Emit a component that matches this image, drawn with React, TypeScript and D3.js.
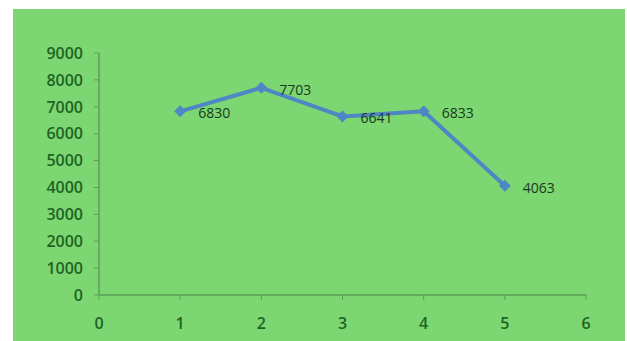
import React from "react";
import * as d3 from "d3";

// Series values
const xValues = [1, 2, 3, 4, 5];
const yValues = [6830, 7703, 6641, 6833, 4063];
const dataLabels = ["6830", "7703", "6641", "6833", "4063"];

// Axis ticks
const xTicks = [0, 1, 2, 3, 4, 5, 6];
const yTicks = [0, 1000, 2000, 3000, 4000, 5000, 6000, 7000, 8000, 9000];

const W = 627;
const H = 341;

export default function App() {
  const x = d3.scaleLinear().domain([0, 6]).range([99, 586]);
  const y = d3.scaleLinear().domain([0, 9000]).range([295, 53]);

  const points = xValues.map((v, i) => [v, yValues[i]] as [number, number]);
  const line = d3
    .line<[number, number]>()
    .x((d) => x(d[0]))
    .y((d) => y(d[1]));

  // square marker turned 45° to form a diamond
  const marker = d3.symbol().type(d3.symbolSquare).size(72)();

  const axisColor = "#5b9e57";
  const tickText = "#1d6422";
  const seriesColor = "#4f86c4";
  const font = "'Open Sans', 'Liberation Sans', Arial, sans-serif";

  return (
    <div style={{ position: "absolute", left: 0, top: 0 }}>
      <svg width={W} height={H} style={{ display: "block" }}>
        <rect x={0} y={0} width={W} height={H} fill="#ffffff" />
        <rect x={13} y={9} width={612} height={H - 9} fill="#7cd672" />

        {/* y axis */}
        <line x1={x(0)} x2={x(0)} y1={y(9000)} y2={y(0)} stroke={axisColor} strokeWidth={1.5} />
        {yTicks.map((t) => (
          <g key={"y" + t}>
            <line x1={x(0) - 5} x2={x(0)} y1={y(t)} y2={y(t)} stroke={axisColor} strokeWidth={1} />
            <text
              x={83}
              y={y(t)}
              dy="0.36em"
              textAnchor="end"
              fontFamily={font}
              fontWeight={600}
              fontSize={16}
              fill={tickText}
            >
              {t}
            </text>
          </g>
        ))}

        {/* x axis */}
        <line x1={x(0)} x2={x(6)} y1={y(0)} y2={y(0)} stroke={axisColor} strokeWidth={1.5} />
        {xTicks.map((t) => (
          <g key={"x" + t}>
            <line x1={x(t)} x2={x(t)} y1={y(0)} y2={y(0) + 5} stroke={axisColor} strokeWidth={1} />
            <text
              x={x(t)}
              y={323}
              dy="0.36em"
              textAnchor="middle"
              fontFamily={font}
              fontWeight={600}
              fontSize={16}
              fill={tickText}
            >
              {t}
            </text>
          </g>
        ))}

        {/* series line */}
        <path d={line(points) || ""} fill="none" stroke={seriesColor} strokeWidth={4} strokeLinejoin="round" />
        {points.map((p, i) => (
          <path
            key={"m" + i}
            d={marker || ""}
            transform={`translate(${x(p[0])},${y(p[1])}) rotate(45)`}
            fill={seriesColor}
          />
        ))}

        {/* data labels */}
        {points.map((p, i) => (
          <text
            key={"l" + i}
            x={x(p[0]) + 18}
            y={y(p[1]) + 2}
            dy="0.36em"
            fontFamily={font}
            fontSize={14}
            fill="#1a3a1c"
          >
            {dataLabels[i]}
          </text>
        ))}
      </svg>
    </div>
  );
}
